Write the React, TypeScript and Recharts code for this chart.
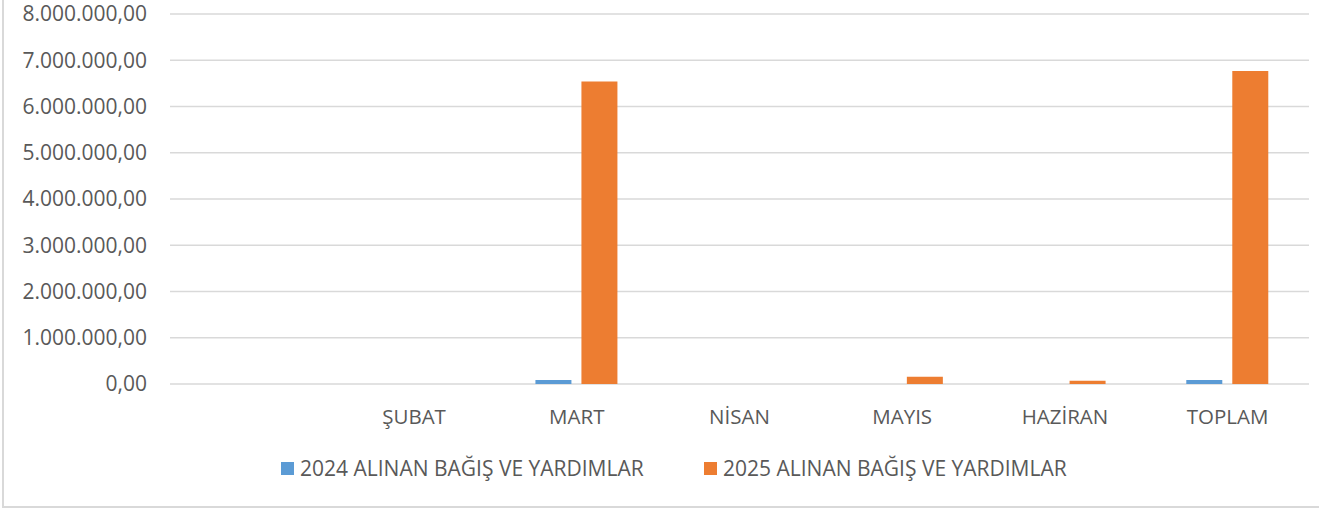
import React from "react";
import { BarChart, Bar, XAxis, YAxis, CartesianGrid, Legend } from "recharts";

const months = ["", "ŞUBAT", "MART", "NİSAN", "MAYIS", "HAZİRAN", "TOPLAM"];
const values2024 = [0, 0, 88000, 0, 0, 0, 88000];
const values2025 = [0, 0, 6540000, 0, 155000, 70000, 6765000];
const yTicks = [0, 1000000, 2000000, 3000000, 4000000, 5000000, 6000000, 7000000, 8000000];
const seriesNames = ["2024 ALINAN BAĞIŞ VE YARDIMLAR", "2025 ALINAN BAĞIŞ VE YARDIMLAR"];
const seriesColors = ["#5b9bd5", "#ed7d31"];

const data = months.map((m, i) => ({
  key: "c" + i,
  month: m,
  v2024: values2024[i],
  v2025: values2025[i],
}));

function fmtTR(v: number): string {
  const intPart = Math.floor(v);
  const s = String(intPart).replace(/\B(?=(\d{3})+(?!\d))/g, ".");
  return s + ",00";
}

const FONT = "'Open Sans', 'DejaVu Sans', sans-serif";
const TEXT = "#595959";

function LegendContent(props: any) {
  const payload = props.payload || [];
  return (
    <svg width={1319} height={56} style={{ display: "block", overflow: "visible" }}>
      {payload.map((p: any, i: number) => {
        const x0 = 281 + i * 423;
        return (
          <g key={i}>
            <rect x={x0} y={22} width={13} height={13} fill={p.color} />
            <text x={x0 + 19} y={36} fontSize={21} fontFamily={FONT} fill={TEXT}>
              {p.value}
            </text>
          </g>
        );
      })}
    </svg>
  );
}

function XTick(props: any) {
  const { x, y, payload } = props;
  return (
    <text x={x} y={y} dy="0.71em" textAnchor="middle" fontSize={20.5} fontFamily={FONT} fill={TEXT}>
      {months[payload.index] ?? payload.value}
    </text>
  );
}

export default function App() {
  return (
    <div style={{ position: "absolute", left: 0, top: 0, width: 1319, height: 511, overflow: "hidden", background: "#fff" }}>
      <div
        style={{
          position: "absolute",
          left: 2,
          top: -10,
          width: 1340,
          height: 518,
          boxSizing: "border-box",
          border: "2px solid #d9d9d9",
        }}
      />
      <div style={{ position: "absolute", left: 0, top: 0 }}>
        <BarChart
          width={1319}
          height={511}
          data={data}
          margin={{ top: 14, right: 10, bottom: 21, left: 0 }}
          barGap={10}
        >
          <CartesianGrid vertical={false} stroke="#d9d9d9" strokeWidth={1.5} />
          <XAxis
            dataKey="key"
            axisLine={false}
            tickLine={false}
            tickSize={0}
            tickMargin={25}
            height={50}
            interval={0}
            tick={<XTick />}
          />
          <YAxis
            width={170}
            domain={[0, 8000000]}
            ticks={yTicks}
            axisLine={false}
            tickLine={false}
            tickSize={0}
            tickMargin={23}
            tickFormatter={fmtTR}
            tick={{ fontSize: 21, fontFamily: FONT, fill: TEXT }}
            interval={0}
          />
          <Legend
            content={<LegendContent />}
            wrapperStyle={{ position: "absolute", left: 0, top: 440, width: 1319, height: 56 }}
          />
          <Bar dataKey="v2024" name={seriesNames[0]} fill={seriesColors[0]} barSize={36} isAnimationActive={false} />
          <Bar dataKey="v2025" name={seriesNames[1]} fill={seriesColors[1]} barSize={36} isAnimationActive={false} />
        </BarChart>
      </div>
    </div>
  );
}
